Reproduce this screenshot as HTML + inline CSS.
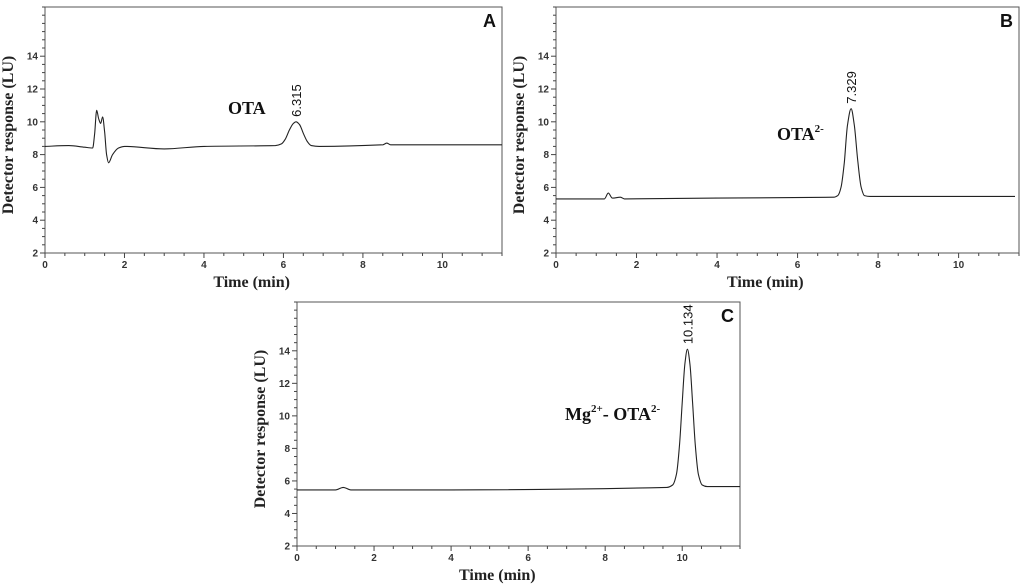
<!DOCTYPE html>
<html><head><meta charset="utf-8"><style>
body{margin:0;background:#fff;width:1024px;height:588px;overflow:hidden}
svg{display:block}
.tk{font:bold 10px "Liberation Sans",sans-serif;fill:#333}
.ttl{font:bold 16px "Liberation Serif",serif;fill:#222}
.lab{font:bold 18px "Liberation Serif",serif;fill:#111}
.pl{font:13px "Liberation Sans",sans-serif;fill:#111}
.pn{font:bold 18px "Liberation Sans",sans-serif;fill:#111}
</style></head><body>
<svg id="fig" width="1024" height="588"></svg>
<script>
const timesA=[0,0.6,1.0,1.2,1.25,1.3,1.35,1.4,1.45,1.5,1.55,1.6,1.7,1.85,2,3,4,5.8,5.95,6.05,6.15,6.25,6.315,6.4,6.5,6.6,6.7,6.9,8.5,8.6,8.7,11.5];
const valsA=[8.5,8.55,8.45,8.4,9.3,10.7,10.2,9.9,10.3,9.4,8.0,7.5,8.0,8.4,8.5,8.35,8.5,8.55,8.65,8.95,9.5,9.9,10.0,9.85,9.3,8.8,8.55,8.5,8.6,8.7,8.6,8.6];
const timesB=[0,1.2,1.3,1.4,1.6,1.7,4,6.9,7.0,7.08,7.16,7.24,7.329,7.41,7.5,7.58,7.66,7.8,11.4];
const valsB=[5.3,5.3,5.65,5.35,5.4,5.3,5.35,5.4,5.5,6.0,7.5,9.8,10.8,9.8,7.5,6.0,5.5,5.45,5.45];
const timesC=[0,1.0,1.2,1.4,4,9.6,9.75,9.85,9.93,10.0,10.07,10.134,10.2,10.27,10.34,10.42,10.52,10.65,11.5];
const valsC=[5.45,5.45,5.6,5.45,5.45,5.6,5.75,6.4,8.2,10.8,13.2,14.1,13.2,10.8,8.2,6.4,5.75,5.65,5.65];
const yTicks=[2,4,6,8,10,12,14];
const xTicks=[0,2,4,6,8,10];
const panels=[
 {id:'a',L:45,R:502,T:7,B:253,xmax:11.5,t:timesA,v:valsA,peak:'6.315',pt:6.315,pv:10.0,letter:'A'},
 {id:'b',L:556,R:1019,T:7,B:253,xmax:11.5,t:timesB,v:valsB,peak:'7.329',pt:7.329,pv:10.8,letter:'B'},
 {id:'c',L:297,R:740,T:302,B:546,xmax:11.5,t:timesC,v:valsC,peak:'10.134',pt:10.134,pv:14.1,letter:'C'}
];
const NS='http://www.w3.org/2000/svg';
const svg=document.getElementById('fig');
function mk(tag,attrs,parent,text){const e=document.createElementNS(NS,tag);for(const k in attrs)e.setAttribute(k,attrs[k]);if(text!==undefined)e.textContent=text;parent.appendChild(e);return e;}
function monotone(P){const n=P.length;const d=[],m=[];
 for(let i=0;i<n-1;i++)d.push((P[i+1][1]-P[i][1])/(P[i+1][0]-P[i][0]));
 m[0]=d[0];m[n-1]=d[n-2];
 for(let i=1;i<n-1;i++)m[i]=(d[i-1]*d[i]<=0)?0:2/(1/d[i-1]+1/d[i]);
 let s='M'+P[0][0].toFixed(1)+','+P[0][1].toFixed(1);
 for(let i=0;i<n-1;i++){const h=(P[i+1][0]-P[i][0])/3;
  s+=` C${(P[i][0]+h).toFixed(1)},${(P[i][1]+m[i]*h).toFixed(1)} ${(P[i+1][0]-h).toFixed(1)},${(P[i+1][1]-m[i+1]*h).toFixed(1)} ${P[i+1][0].toFixed(1)},${P[i+1][1].toFixed(1)}`;}
 return s;}
panels.forEach(p=>{
 const ymin=2,ymax=17;
 const sx=x=>p.L+(x/p.xmax)*(p.R-p.L);
 const sy=y=>p.B-(y-ymin)/(ymax-ymin)*(p.B-p.T);
 const g=mk('g',{},svg);
 
 
 const fr=mk('rect',{x:p.L,y:p.T,width:p.R-p.L,height:p.B-p.T,fill:'none',stroke:'#555','stroke-width':1},g);
 
 
 for(let y=2;y<=ymax+1e-9;y+=0.5){const maj=Math.abs(y%2)<1e-9&&y<=14;const l=mk('line',{x1:p.L-(maj?5:3),x2:p.L,y1:sy(y),y2:sy(y),stroke:'#444'},g);
  }
 for(let x=0;x<=p.xmax+1e-9;x+=0.5){const maj=Math.abs(x%2)<1e-9;const l=mk('line',{x1:sx(x),x2:sx(x),y1:p.B,y2:p.B+(maj?5:3),stroke:'#444'},g);
  }
 yTicks.forEach(y=>{const t=mk('text',{x:p.L-7,y:sy(y)+3.5,'text-anchor':'end',class:'tk'},g,y);
  });
 xTicks.forEach(x=>{const t=mk('text',{x:sx(x),y:p.B+15,'text-anchor':'middle',class:'tk'},g,x);
  });
 const cy=(p.T+p.B)/2+5;
 const yx=p.L-32;
 const yt=mk('text',{x:yx,y:cy,'text-anchor':'middle',class:'ttl',transform:`rotate(-90 ${yx} ${cy})`},g,'Detector response (LU)');
 
 const xt=mk('text',{x:sx(5.2),y:p.B+34,'text-anchor':'middle',class:'ttl'},g,'Time (min)');
 
 const P=p.t.map((t,i)=>[sx(t),sy(p.v[i])]);
 const pl=mk('path',{d:monotone(P),fill:'none',stroke:'#222','stroke-width':1.1,'stroke-linejoin':'round'},g);
 
 const px=sx(p.pt)+5,py=sy(p.pv)-5;
 const plb=mk('text',{x:px,y:py,class:'pl',transform:`rotate(-90 ${px} ${py})`},g,p.peak);
 
 const pn=mk('text',{x:p.R-6,y:p.T+20,'text-anchor':'end',class:'pn'},g,p.letter);
 
});
</script>
<svg style="position:absolute;left:0;top:0" width="1024" height="588">
<text x="228" y="114" class="lab">OTA</text>
<text x="777" y="140" class="lab">OTA<tspan dy="-8" font-size="11">2-</tspan></text>
<text x="565" y="420" class="lab">Mg<tspan dy="-8" font-size="11">2+</tspan><tspan dy="8">- OTA</tspan><tspan dy="-8" font-size="11">2-</tspan></text>
</svg>
</body></html>
